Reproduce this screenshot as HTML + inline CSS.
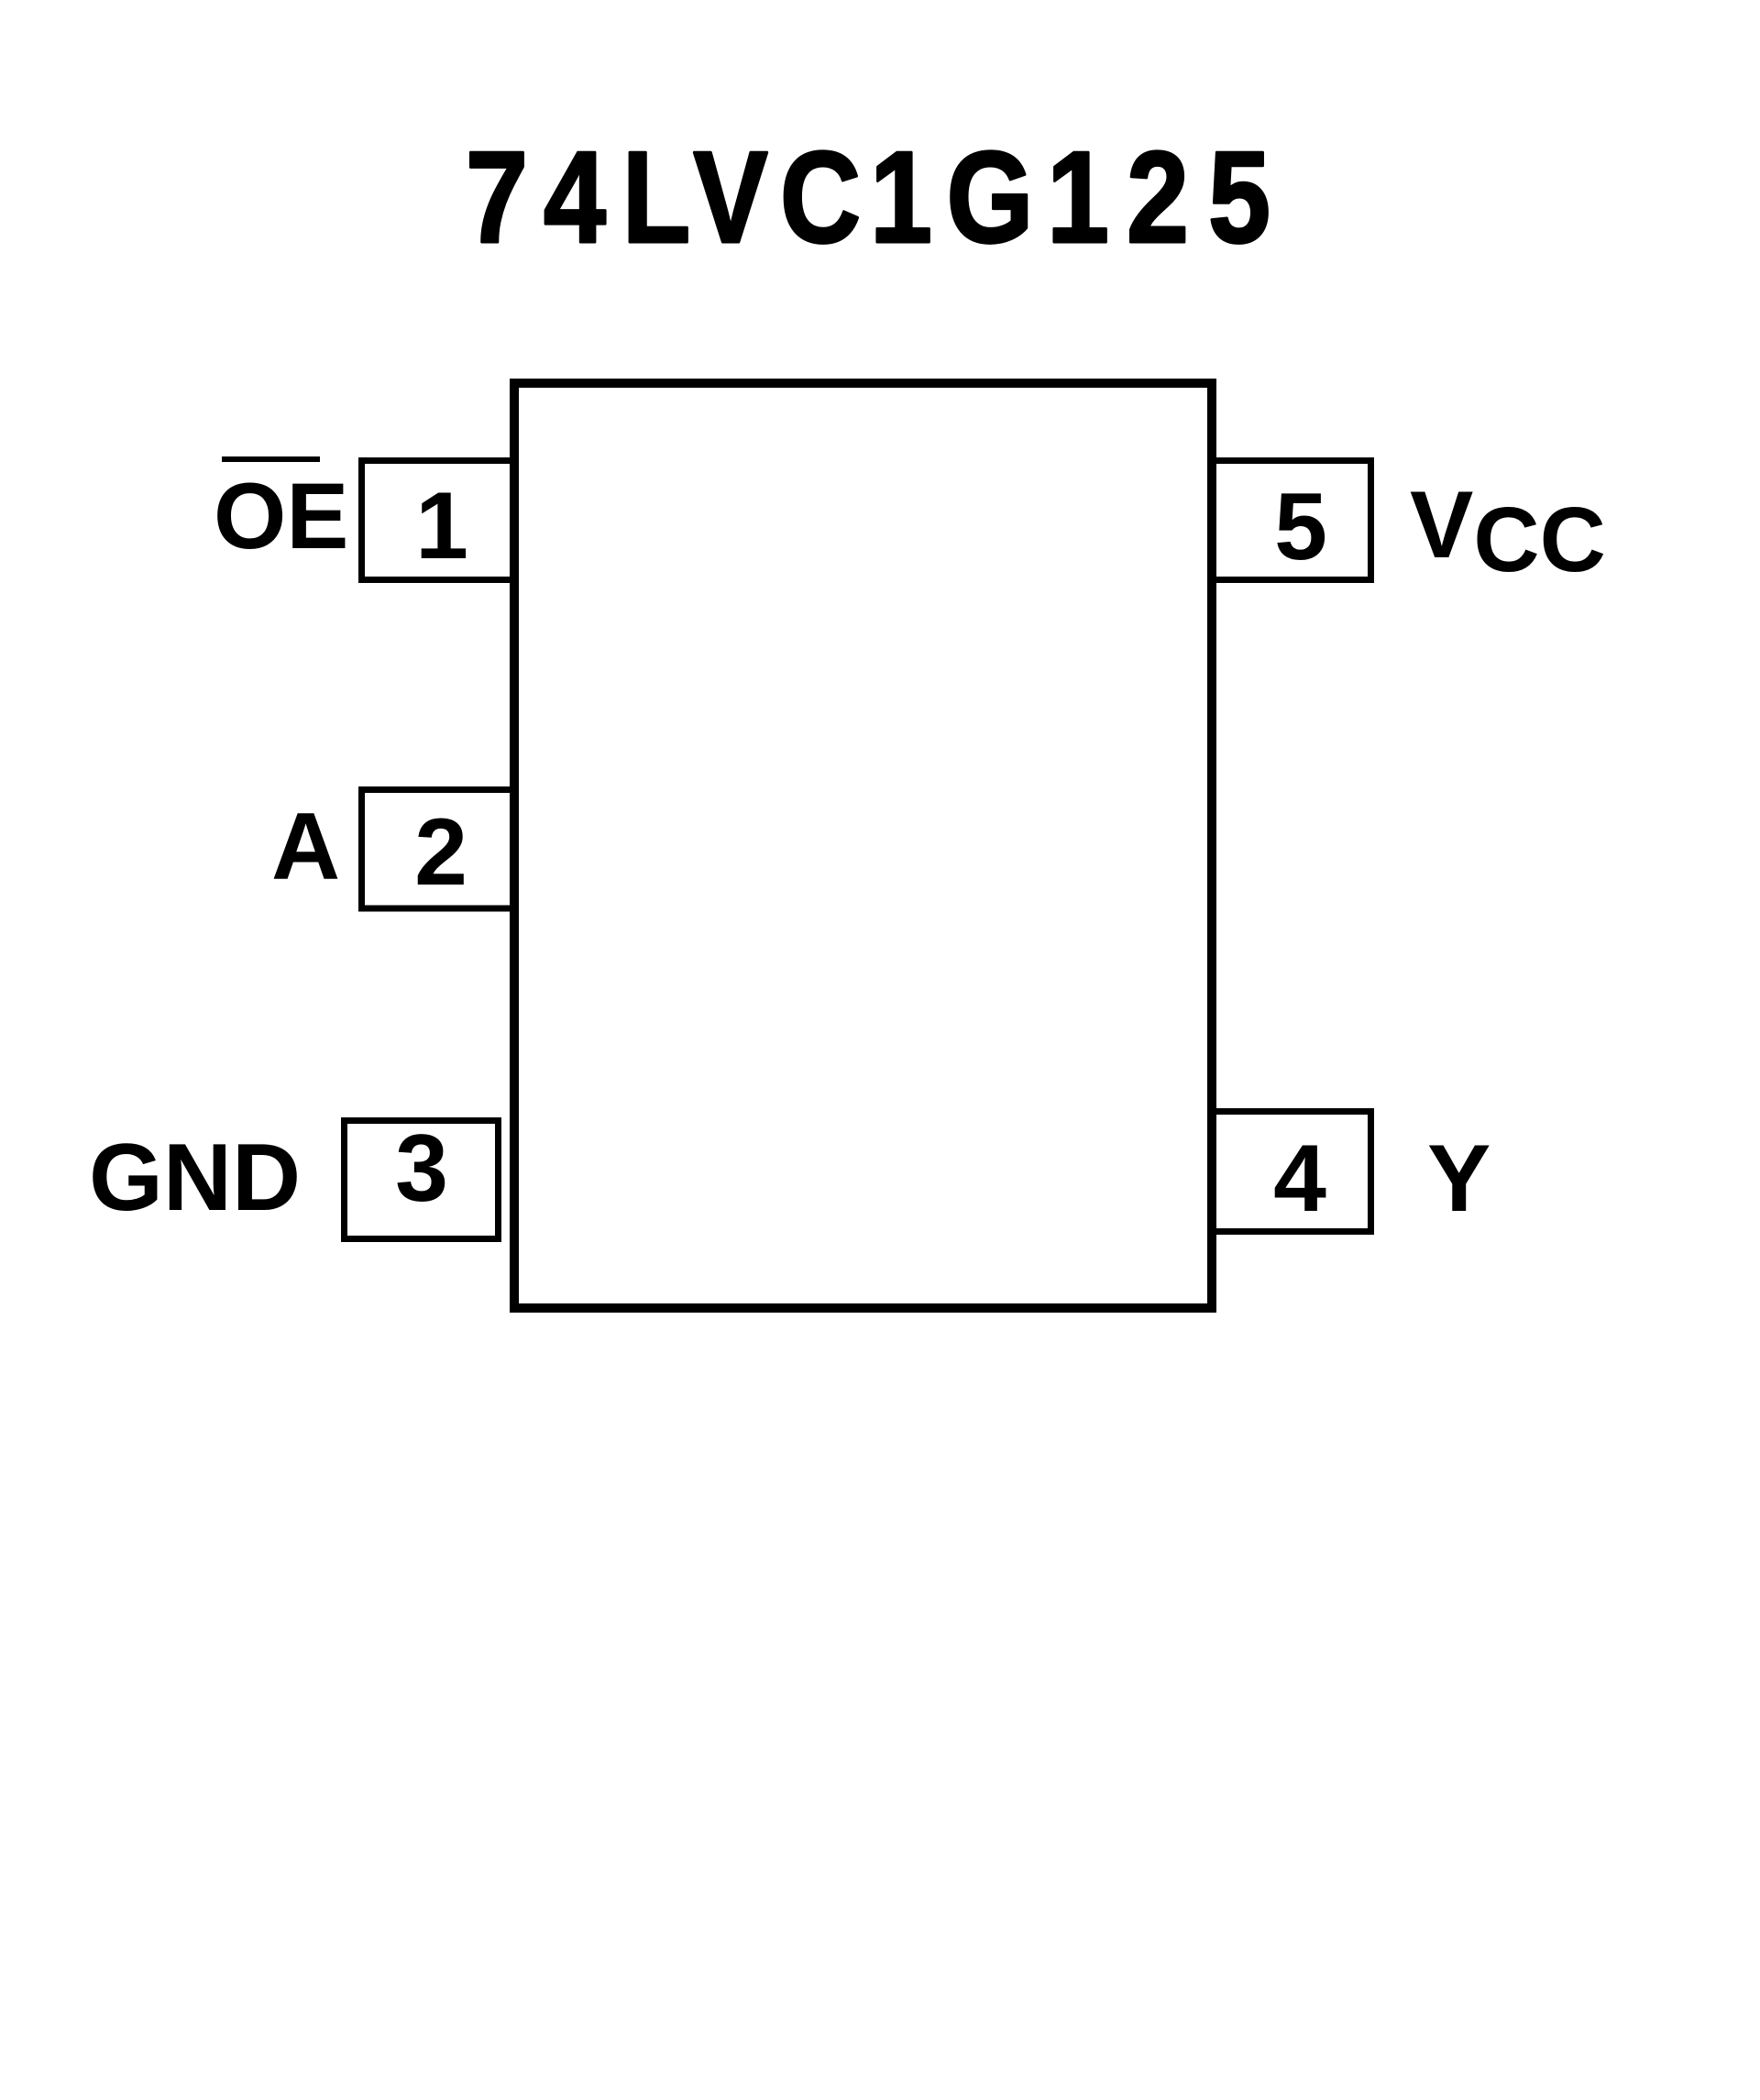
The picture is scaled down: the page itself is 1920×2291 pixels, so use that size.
<!DOCTYPE html>
<html>
<head>
<meta charset="utf-8">
<style>
  html, body { margin: 0; padding: 0; background: #ffffff; }
  body { width: 1920px; height: 2291px; overflow: hidden; }
  svg { display: block; }
  .t { font-family: "Liberation Sans", Arial, sans-serif; font-weight: bold; fill: #000; }
</style>
</head>
<body>
<svg width="1920" height="2291" viewBox="0 0 1920 2291" xmlns="http://www.w3.org/2000/svg">
  <rect x="0" y="0" width="1920" height="2291" fill="#ffffff"/>

  <!-- Title: per-glyph placement, horizontally condensed -->
  <g class="t" font-size="142" text-anchor="middle" stroke="#000" stroke-width="3" stroke-linejoin="round">
    <text transform="translate(542,264) scale(0.86,1)" x="0" y="0">7</text>
    <text transform="translate(627,264) scale(0.86,1)" x="0" y="0">4</text>
    <text transform="translate(716,264) scale(0.86,1)" x="0" y="0">L</text>
    <text transform="translate(797,264) scale(0.86,1)" x="0" y="0">V</text>
    <text transform="translate(895,264) scale(0.86,1)" x="0" y="0">C</text>
    <text transform="translate(983,264) scale(0.86,1)" x="0" y="0">1</text>
    <text transform="translate(1080,264) scale(0.86,1)" x="0" y="0">G</text>
    <text transform="translate(1176,264) scale(0.86,1)" x="0" y="0">1</text>
    <text transform="translate(1263,264) scale(0.86,1)" x="0" y="0">2</text>
    <text transform="translate(1352,264) scale(0.86,1)" x="0" y="0">5</text>
  </g>

  <!-- Pin boxes (left) -->
  <rect x="394.5" y="502.5" width="170" height="130" fill="none" stroke="#000" stroke-width="7"/>
  <rect x="394.5" y="861.5" width="170" height="129.5" fill="none" stroke="#000" stroke-width="7"/>
  <rect x="375.5" y="1222.5" width="168" height="129" fill="none" stroke="#000" stroke-width="7"/>

  <!-- Pin boxes (right) -->
  <rect x="1320" y="502.5" width="175.5" height="130" fill="none" stroke="#000" stroke-width="7"/>
  <rect x="1320" y="1212.5" width="175.5" height="131" fill="none" stroke="#000" stroke-width="7"/>

  <!-- Main IC body -->
  <rect x="561" y="418" width="761" height="1009" fill="#ffffff" stroke="#000" stroke-width="10"/>

  <!-- Pin numbers -->
  <text class="t" x="482" y="609" font-size="104" text-anchor="middle">1</text>
  <text class="t" x="481" y="965" font-size="104" text-anchor="middle">2</text>
  <text class="t" x="460" y="1310" font-size="104" text-anchor="middle">3</text>
  <text class="t" x="1418" y="1321" font-size="104" text-anchor="middle">4</text>
  <text class="t" x="1419" y="610" font-size="104" text-anchor="middle">5</text>

  <!-- Pin names -->
  <rect x="242" y="498" width="107" height="6" fill="#000"/>
  <text class="t" x="233" y="598" font-size="102">OE</text>
  <text class="t" x="296" y="959" font-size="104">A</text>
  <text class="t" x="97" y="1320" font-size="104">GND</text>
  <text class="t" x="1538" y="608" font-size="104">V<tspan font-size="100" dy="15">CC</tspan></text>
  <text class="t" x="1557" y="1321" font-size="104">Y</text>
</svg>
</body>
</html>
